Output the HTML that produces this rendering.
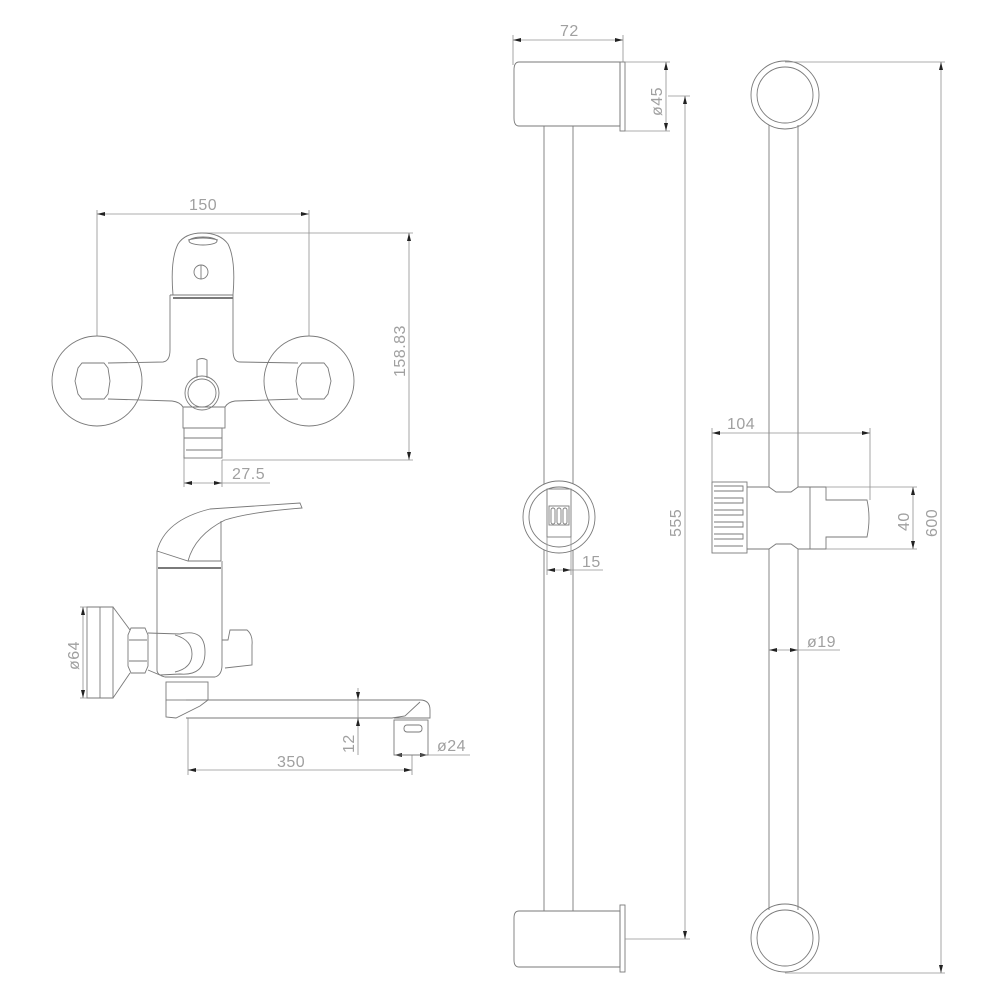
<!DOCTYPE html>
<html><head><meta charset="utf-8"><style>
html,body{margin:0;padding:0;background:#fff}
svg{display:block}
text{font-family:"Liberation Sans",sans-serif;font-size:16px;fill:#a0a0a0;letter-spacing:0.5px}
.l{stroke:#7a7a7a;stroke-width:0.9;fill:none}
.d{stroke:#909090;stroke-width:0.8;fill:none}
.a{fill:#222}
</style></head><body>
<svg width="1000" height="1000" viewBox="0 0 1000 1000">
<!-- ========== FAUCET FRONT ========== -->
<g class="d">
<line x1="97" y1="214" x2="309" y2="214"/><line x1="97" y1="210" x2="97" y2="336"/><line x1="309" y1="210" x2="309" y2="336"/>
<line x1="200" y1="233" x2="413" y2="233"/><line x1="222" y1="460" x2="413" y2="460"/><line x1="409" y1="233" x2="409" y2="460"/>
<line x1="184" y1="483" x2="270" y2="483"/><line x1="184" y1="455" x2="184" y2="487"/><line x1="222" y1="460" x2="222" y2="487"/>
</g>
<g class="a">
<polygon points="97,214 105,212 105,216"/><polygon points="309,214 301,212 301,216"/>
<polygon points="409,233 407,241 411,241"/><polygon points="409,460 407,452 411,452"/>
<polygon points="184,483 192,481 192,485"/><polygon points="222,483 214,481 214,485"/>
</g>
<text x="189" y="210">150</text>
<text transform="translate(405,377) rotate(-90)">158.83</text>
<text x="232" y="479">27.5</text>
<g class="l">
<circle cx="97" cy="381" r="45"/><circle cx="309" cy="381" r="45"/>
<path d="M82,363 L104,363 L108,368 L110,381 L108,394 L104,399 L82,399 L78,394 L75,381 L78,368 Z"/>
<path d="M324,363 L302,363 L298,368 L296,381 L298,394 L302,399 L324,399 L328,394 L331,381 L328,368 Z"/>
<path d="M108,363 L163,362 Q170,361 170,350 L170,295 M233,295 L233,350 Q233,362 240,362 L298,363"/>
<path d="M108,399 L172,401 Q180,402 183,407 L225,407 Q228,402 235,401 L298,399"/>
<path d="M170,295 L173,295 Q170,260 178,244 Q185,233 202,233 Q220,233 228,244 Q236,260 233,295 Z"/>
<line x1="173" y1="295" x2="233" y2="295"/><line x1="173" y1="298" x2="233" y2="298" stroke-width="2"/>
<ellipse cx="203" cy="241" rx="14" ry="4"/><path d="M188,240 Q203,236 218,240"/>
<circle cx="201" cy="272" r="7"/><line x1="201" y1="265" x2="201" y2="279"/>
<circle cx="202" cy="393" r="17"/><circle cx="202" cy="393" r="14"/>
<path d="M197,378 L197,360 Q202,357 207,360 L207,378"/>
<rect x="183" y="407" width="42" height="21"/><rect x="184" y="428" width="38" height="30"/>
<line x1="184" y1="438" x2="222" y2="438"/><line x1="186" y1="450" x2="222" y2="450"/>
</g>
<!-- ========== FAUCET SIDE ========== -->
<g class="d">
<line x1="83" y1="607" x2="83" y2="698"/><line x1="80" y1="607" x2="112" y2="607"/><line x1="80" y1="698" x2="112" y2="698"/>
<line x1="358" y1="688" x2="358" y2="755"/><line x1="362" y1="700" x2="420" y2="700"/>
<line x1="188" y1="718" x2="188" y2="775"/><line x1="412" y1="755" x2="412" y2="775"/>
<line x1="188" y1="770" x2="412" y2="770"/><line x1="394" y1="755" x2="470" y2="755"/>
</g>
<g class="a">
<polygon points="83,607 81,615 85,615"/><polygon points="83,698 81,690 85,690"/>
<polygon points="358,700 356,692 360,692"/><polygon points="358,718 356,726 360,726"/>
<polygon points="188,770 196,768 196,772"/><polygon points="412,770 404,768 404,772"/>
<polygon points="394,755 402,753 402,757"/><polygon points="428,755 420,753 420,757"/>
</g>
<text transform="translate(79,670) rotate(-90)">ø64</text>
<text transform="translate(354,753) rotate(-90)">12</text>
<text x="437" y="751">ø24</text>
<text x="277" y="767">350</text>
<g class="l">
<path d="M157,551 Q165,520 210,509 L300,503 L302,508 Q250,512 225,520 Q195,535 188,561 Z"/>
<line x1="221" y1="521" x2="221" y2="561"/><line x1="188" y1="561" x2="221" y2="561"/>
<path d="M157,551 L157,670 Q157,675 165,677 L215,677 Q222,675 222,665 L222,561"/>
<line x1="158" y1="568" x2="221" y2="568" stroke-width="2"/>
<path d="M113,607 L87,607 L87,698 L113,698 Z"/><line x1="100" y1="607" x2="100" y2="698"/>
<path d="M113,607 L130,630 M113,698 L130,673"/>
<path d="M131,628 L145,628 L148,635 L148,666 L145,673 L131,673 L128,666 L128,635 Z"/>
<line x1="129" y1="640" x2="147" y2="640"/><line x1="129" y1="661" x2="147" y2="661"/>
<path d="M148,633 L180,634 Q205,628 205,652 Q205,676 180,674 L160,675 L148,670"/>
<path d="M175,635 Q192,640 192,654 Q192,668 175,672"/>
<path d="M222,640 L228,640 L230,630 L247,630 Q253,635 252,645 L252,665 L225,668"/>
<rect x="166" y="682" width="42" height="18"/>
<path d="M166,700 L166,717 L176,718 L200,706 L208,700"/>
<path d="M186,700 L420,700 Q430,700 430,710 L430,718 L394,718"/>
<path d="M186,718 L392,718 L405,716 L420,702"/>
<rect x="394" y="720" width="34" height="35"/><rect x="404" y="725" width="18" height="7" rx="3"/>
</g>
<!-- ========== BAR SIDE ========== -->
<g class="l">
<path d="M519,62 L620,62 L620,126 L519,126 Q514,126 514,118 L514,70 Q514,62 519,62 Z"/>
<rect x="620" y="62" width="5" height="69"/>
<line x1="544" y1="126" x2="544" y2="911"/><line x1="573" y1="126" x2="573" y2="911"/>
<path d="M519,911 L620,911 L620,967 L519,967 Q514,967 514,960 L514,918 Q514,911 519,911 Z"/>
<rect x="620" y="905" width="5" height="67"/>
<circle cx="559" cy="517" r="36" fill="#fff"/><circle cx="559" cy="517" r="30"/>
<rect x="547" y="489" width="24" height="48"/><rect x="549" y="506" width="20" height="19"/>
<rect x="551" y="508" width="4" height="16" rx="2"/><rect x="557" y="508" width="4" height="16" rx="2"/><rect x="563" y="508" width="4" height="16" rx="2"/>
</g>
<g class="d">
<line x1="513" y1="35" x2="513" y2="65"/><line x1="623" y1="35" x2="623" y2="62"/><line x1="513" y1="40" x2="623" y2="40"/>
<line x1="625" y1="62" x2="670" y2="62"/><line x1="625" y1="131" x2="670" y2="131"/><line x1="666" y1="62" x2="666" y2="131"/>
<line x1="668" y1="96" x2="690" y2="96"/><line x1="685" y1="96" x2="685" y2="939"/><line x1="625" y1="939" x2="690" y2="939"/>
<line x1="547" y1="537" x2="547" y2="575"/><line x1="571" y1="537" x2="571" y2="575"/><line x1="547" y1="570" x2="603" y2="570"/>
</g>
<g class="a">
<polygon points="513,40 521,38 521,42"/><polygon points="623,40 615,38 615,42"/>
<polygon points="666,62 664,70 668,70"/><polygon points="666,131 664,123 668,123"/>
<polygon points="685,96 683,104 687,104"/><polygon points="685,939 683,931 687,931"/>
<polygon points="547,570 555,568 555,572"/><polygon points="571,570 563,568 563,572"/>
</g>
<text x="560" y="36">72</text>
<text transform="translate(662,116) rotate(-90)">ø45</text>
<text transform="translate(681,537) rotate(-90)">555</text>
<text x="582" y="567">15</text>
<!-- ========== BAR FRONT ========== -->
<g class="l">
<circle cx="785" cy="95" r="34"/><circle cx="785" cy="95" r="28"/>
<line x1="769" y1="125" x2="769" y2="487"/><line x1="798" y1="125" x2="798" y2="487"/>
<line x1="769" y1="549" x2="769" y2="910"/><line x1="798" y1="549" x2="798" y2="910"/>
<circle cx="785" cy="938" r="34"/><circle cx="785" cy="938" r="28"/>
<rect x="712" y="482" width="35" height="71"/>
<path d="M714,486h29v5h-29M714,498h29v5h-29M714,510h29v5h-29M714,522h29v5h-29M714,534h29v5h-29M714,546h29"/>
<path d="M747,487 L769,487 L776,492 L791,492 L798,487 L810,487 L810,549 L798,549 L791,544 L776,544 L769,549 L747,549"/>
<path d="M810,487 L826,487 L826,500 L867,500 Q871,518 867,537 L826,537 L826,549 L810,549"/>
</g>
<g class="d">
<line x1="785" y1="62" x2="945" y2="62"/><line x1="785" y1="973" x2="945" y2="973"/><line x1="941" y1="62" x2="941" y2="973"/>
<line x1="712" y1="428" x2="712" y2="482"/><line x1="870" y1="428" x2="870" y2="500"/><line x1="712" y1="433" x2="870" y2="433"/>
<line x1="826" y1="487" x2="917" y2="487"/><line x1="826" y1="549" x2="917" y2="549"/><line x1="913" y1="487" x2="913" y2="549"/>
<line x1="769" y1="650" x2="840" y2="650"/>
</g>
<g class="a">
<polygon points="941,62 939,70 943,70"/><polygon points="941,973 939,965 943,965"/>
<polygon points="712,433 720,431 720,435"/><polygon points="870,433 862,431 862,435"/>
<polygon points="913,487 911,495 915,495"/><polygon points="913,549 911,541 915,541"/>
<polygon points="769,650 777,648 777,652"/><polygon points="798,650 790,648 790,652"/>
</g>
<text x="727" y="429">104</text>
<text transform="translate(909,531) rotate(-90)">40</text>
<text transform="translate(937,537) rotate(-90)">600</text>
<text x="807" y="647">ø19</text>
</svg>
</body></html>
